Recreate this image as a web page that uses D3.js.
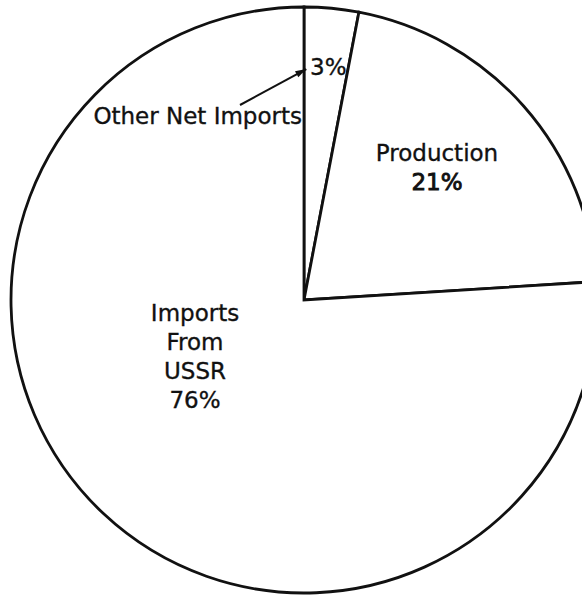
<!DOCTYPE html>
<html>
<head>
<meta charset="utf-8">
<script src="https://cdn.jsdelivr.net/npm/d3@7"></script>
<style>
  html, body { margin: 0; padding: 0; background: #fff; overflow: hidden; }
  svg { display: block; }
  .lbl { font-family: "DejaVu Sans", sans-serif; font-size: 23px; fill: #111; stroke: #111; stroke-width: 0.35; }
</style>
</head>
<body>
<svg id="chart" width="582" height="596"></svg>
<script>
// slice order goes clockwise from 12 o'clock
const categories = ["Other Net Imports", "Production", "Imports From USSR"]
const shares = [3, 21, 76]
const labelLines = [["3%"], ["Production", "21%"], ["Imports", "From", "USSR", "76%"]]

const cx = 304, cy = 300, radius = 293
const lineH = 29

// label block placement, relative to the pie centre
const labelPos = {
  "Other Net Imports": { x: 6, y: -225, anchor: "start" },
  "Production": { x: 133, y: -139, anchor: "middle" },
  "Imports From USSR": { x: -109, y: 21, anchor: "middle" }
}

const svg = d3.select("#chart")
const g = svg.append("g").attr("transform", `translate(${cx},${cy})`)

const pie = d3.pie().sort(null).value((d) => d.value)
const arc = d3.arc().innerRadius(0).outerRadius(radius)

const data = categories.map((c, i) => ({ name: c, value: shares[i], lines: labelLines[i] }))

g.selectAll("path.slice")
  .data(pie(data))
  .enter().append("path")
    .attr("class", "slice")
    .attr("d", arc)
    .style("fill", "#fff")
    .style("stroke", "#111")
    .style("stroke-width", 2.8)
    .style("stroke-linejoin", "miter")

const labels = g.selectAll("text.lbl")
  .data(pie(data))
  .enter().append("text")
    .attr("class", "lbl")
    .attr("text-anchor", (d) => labelPos[d.data.name].anchor)
    .attr("x", (d) => labelPos[d.data.name].x)
    .attr("y", (d) => labelPos[d.data.name].y)

labels.selectAll("tspan")
  .data((d) => d.data.lines.map((l) => ({ text: l, x: labelPos[d.data.name].x })))
  .enter().append("tspan")
    .attr("x", (d) => d.x)
    .attr("dy", (d, i) => i === 0 ? 0 : lineH)
    .style("stroke-width", (d) => d.text === "21%" ? 0.9 : null)
    .text((d) => d.text)

// outside label for the thin slice, with leader arrow
const thin = pie(data)[0]
const tip = d3.pointRadial(thin.startAngle + 0.01, 231)
g.append("text")
  .attr("class", "lbl")
  .attr("text-anchor", "end")
  .attr("x", -2)
  .attr("y", -176)
  .text(categories[0])

const tail = [-64, -195]
g.append("line")
  .attr("x1", tail[0]).attr("y1", tail[1])
  .attr("x2", tip[0]).attr("y2", tip[1])
  .style("stroke", "#111")
  .style("stroke-width", 2)

const ang = Math.atan2(tip[1] - tail[1], tip[0] - tail[0])
const hl = 11, hw = 3.5
const head = [
  [tip[0], tip[1]],
  [tip[0] - hl * Math.cos(ang) + hw * Math.sin(ang), tip[1] - hl * Math.sin(ang) - hw * Math.cos(ang)],
  [tip[0] - hl * Math.cos(ang) - hw * Math.sin(ang), tip[1] - hl * Math.sin(ang) + hw * Math.cos(ang)]
]
g.append("polygon")
  .attr("points", head.map((p) => p.join(",")).join(" "))
  .style("fill", "#111")
</script>
</body>
</html>
